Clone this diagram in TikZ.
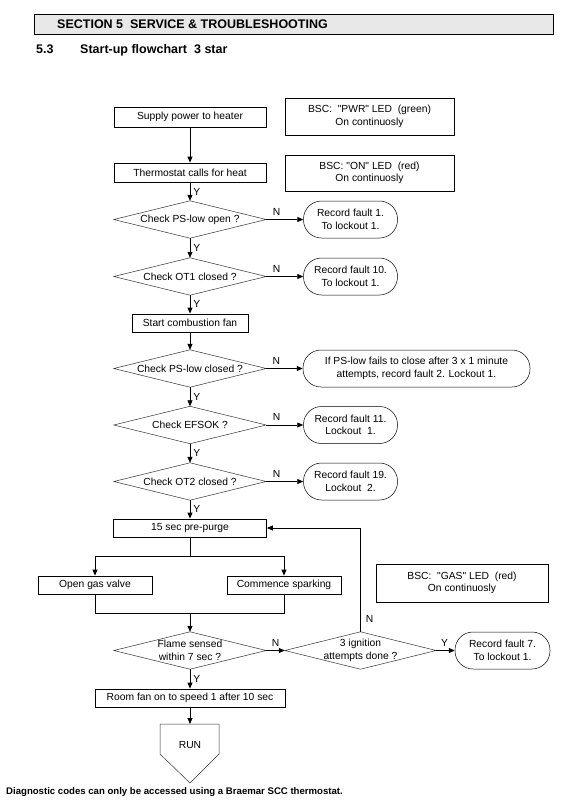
\documentclass[tikz,border=0pt]{standalone}
\usepackage{fontspec}
\setmainfont{Liberation Sans}[Ligatures=TeXOff]
\usetikzlibrary{arrows.meta,calc}
\begin{document}
\begin{tikzpicture}[x=1pt,y=-1pt,
  every node/.style={font=\fontsize{10.3}{12.5}\selectfont, inner sep=0pt, align=center},
  box/.style={draw, line width=0.8pt, minimum height=19pt},
  info/.style={draw, line width=0.8pt, minimum width=169pt, minimum height=37pt},
  term/.style={draw, line width=0.5pt, rounded corners=18pt, minimum width=94pt, minimum height=37pt},
  dia/.style={minimum width=152pt, minimum height=37pt},
  diaedge/.style={line width=0.5pt, draw=black!80},
  arr/.style={line width=0.8pt, -{Triangle[length=6pt,width=5pt]}},
  conn/.style={line width=0.8pt},
  lbl/.style={font=\fontsize{10.3}{12}\selectfont},
  headfont/.style={font=\fontsize{12.5}{14}\selectfont\bfseries}
]
\useasboundingbox (0,0) rectangle (569,804);

% header
\node[draw, line width=0.8pt, fill=black!9, minimum width=519pt, minimum height=20pt, anchor=north west] (hdr) at (34,14) {};
\node[headfont, anchor=base west] (hdrtext) at (57,28.5) {SECTION 5\ \ SERVICE \& TROUBLESHOOTING};
\node[headfont, anchor=base west] (secnum) at (36,53.5) {5.3};
\node[headfont, anchor=base west] (sectitle) at (80,53.5) {Start-up flowchart\ \ 3 star};

% main column
\node[box, minimum width=152pt, minimum height=20pt] (supply) at (190,117) {Supply power to heater};
\node[box, minimum width=152pt] (therm) at (190,172.5) {Thermostat calls for heat};
\node[info] (pwr) at (369.5,116.5) {BSC: \ "PWR" LED \ (green)\\On continuosly};
\node[info, minimum height=36pt] (on) at (369.5,173) {BSC: "ON" LED \ (red)\\On continuosly};

\node[dia] (d1) at (190,219.5) {Check PS-low open ?};
\node[term] (t1) at (350.5,219.5) {Record fault 1.\\To lockout 1.};
\node[dia] (d2) at (190,276.5) {Check OT1 closed ?};
\node[term] (t2) at (350.5,276.5) {Record fault 10.\\To lockout 1.};
\node[box, minimum width=116pt, minimum height=18pt] (fan) at (190,323) {Start combustion fan};
\node[dia] (d3) at (190,368.5) {Check PS-low closed ?};
\node[term, minimum width=227pt] (t3) at (416.5,368.5) {If PS-low fails to close after 3 x 1 minute\\attempts, record fault 2. Lockout 1.};
\node[dia] (d4) at (190,425) {Check EFSOK ?};
\node[term] (t4) at (350.5,425) {Record fault 11.\\Lockout \ 1.};
\node[dia] (d5) at (190,481.5) {Check OT2 closed ?};
\node[term] (t5) at (350.5,481.5) {Record fault 19.\\Lockout \ 2.};
\node[box, minimum width=153pt, minimum height=18pt] (purge) at (190,528) {15 sec pre-purge};

\node[box, minimum width=114pt, minimum height=18pt] (gas) at (95,585) {Open gas valve};
\node[box, minimum width=114pt, minimum height=18pt] (spark) at (284,585) {Commence sparking};
\node[info, minimum width=172pt, minimum height=38pt] (gasled) at (462,583) {BSC: \ "GAS" LED \ (red)\\On continuosly};

\node[dia] (d6) at (190,650.5) {Flame sensed\\within 7 sec ?};
\node[dia, minimum width=151pt] (d7) at (360.5,650.5) {3 ignition\\attempts done ?};
\node[term, minimum width=95pt] (t7) at (502.5,650.5) {Record fault 7.\\To lockout 1.};

\node[box, minimum width=190pt, minimum height=18pt] (room) at (190,698) {Room fan on to speed 1 after 10 sec};
\node (run) at (190,745) {RUN};
\coordinate (runtl) at (160,724);
\coordinate (runtop) at (190,724);
\coordinate (runtr) at (219,724);
\coordinate (runr) at (219,754);
\coordinate (runtip) at (190,783);
\coordinate (runl) at (160,754);
\draw[diaedge] (runtl) -- (runtr) -- (runr) -- (runtip) -- (runl) -- cycle;

\foreach \d in {d1,d2,d3,d4,d5,d6,d7}
  \draw[diaedge] (\d.west) -- (\d.north) -- (\d.east) -- (\d.south) -- cycle;

% connectors
\draw[arr] (supply.south) -- (therm.north);
\draw[arr] (therm.south) -- node[lbl, right=3pt]{Y} (d1.north);
\draw[arr] (d1.east) -- node[lbl, above=4pt, pos=0.28]{N} (t1.west);
\draw[arr] (d1.south) -- node[lbl, right=3pt]{Y} (d2.north);
\draw[arr] (d2.east) -- node[lbl, above=4pt, pos=0.28]{N} (t2.west);
\draw[arr] (d2.south) -- node[lbl, right=3pt]{Y} (fan.north);
\draw[arr] (fan.south) -- (d3.north);
\draw[arr] (d3.east) -- node[lbl, above=4pt, pos=0.28]{N} (t3.west);
\draw[arr] (d3.south) -- node[lbl, right=3pt]{Y} (d4.north);
\draw[arr] (d4.east) -- node[lbl, above=4pt, pos=0.28]{N} (t4.west);
\draw[arr] (d4.south) -- node[lbl, right=3pt]{Y} (d5.north);
\draw[arr] (d5.east) -- node[lbl, above=4pt, pos=0.28]{N} (t5.west);
\draw[arr] (d5.south) -- node[lbl, right=3pt]{Y} (purge.north);

\coordinate (split) at (190,556);
\coordinate (join) at (190,613);
\draw[conn] (purge.south) -- (split);
\draw[arr] (split) -| (gas.north);
\draw[arr] (split) -| (spark.north);
\draw[conn] (gas.south) |- (join);
\draw[conn] (spark.south) |- (join);
\draw[arr] (join) -- (d6.north);

\draw[arr] (d6.east) -- node[lbl, above=4pt, pos=0.5]{N} (d7.west);
\draw[arr] (d7.east) -- node[lbl, above=4pt, pos=0.45]{Y} (t7.west);
\draw[arr] (d7.north) |- node[lbl, pos=0.06, right=5pt]{N} (purge.east);
\draw[arr] (d6.south) -- node[lbl, right=3pt]{Y} (room.north);
\draw[arr] (room.south) -- (runtop);

\node[font=\fontsize{9.6}{11}\selectfont\bfseries, anchor=west] (note) at (6,792) {Diagnostic codes can only be accessed using a Braemar SCC thermostat.};
\end{tikzpicture}
\end{document}
